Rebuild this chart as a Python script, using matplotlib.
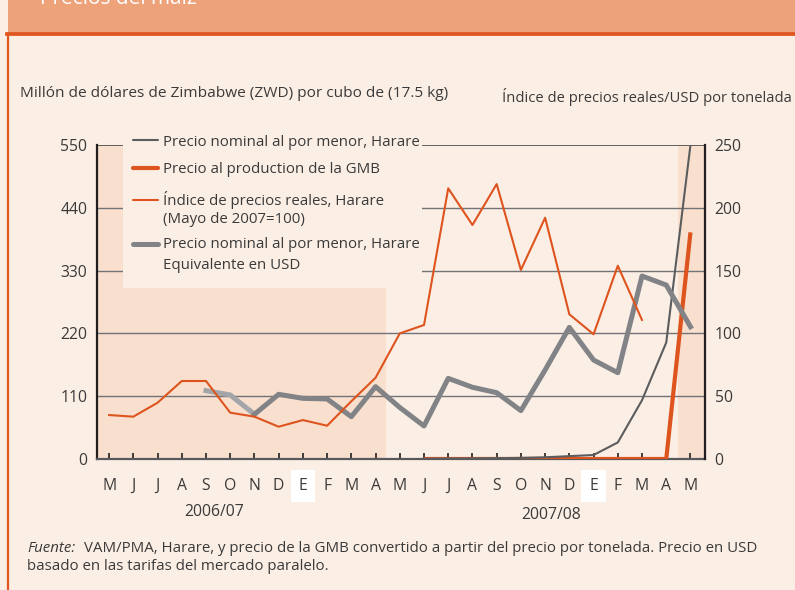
import numpy as np
import matplotlib
matplotlib.use("Agg")
import matplotlib.pyplot as plt
from matplotlib.patches import Rectangle
from matplotlib.lines import Line2D

nan = np.nan
months = ['M', 'J', 'J', 'A', 'S', 'O', 'N', 'D', 'E', 'F', 'M', 'A',
          'M', 'J', 'J', 'A', 'S', 'O', 'N', 'D', 'E', 'F', 'M', 'A', 'M']
years = ['2006/07', '2007/08']

# Left axis (ZWD millions per bucket)
nominal_zwd = [nan] * 13 + [0.5, 0.8, 1, 1.5, 2, 3, 5, 7, 29, 103, 204, 550]
gmb_price = [nan] * 13 + [0] * 11 + [397]
# Right axis
real_index = [35.0, 33.7, 44.8, 62.1, 62.1, 36.9, 33.7, 25.7, 31.0, 26.5, 46.0,
              64.7, 100.0, 106.7, 215.5, 186.3, 218.9, 150.5, 192.1, 115.2,
              99.3, 153.9, 110.7, nan, nan]
nominal_usd = [nan] * 4 + [54.4, 51.0, 35.6, 51.5, 48.3, 47.8, 33.7, 57.6, 41.0,
                           26.3, 64.2, 57.1, 52.8, 38.5, 70.9, 104.8, 78.8, 68.7,
                           145.7, 138.5, 105.3]

labels = ['Precio nominal al por menor, Harare',
          'Precio al production de la GMB',
          'Índice de precios reales, Harare\n(Mayo de 2007=100)',
          'Precio nominal al por menor, Harare\nEquivalente en USD']

BG = '#FBEEE5'
SHADE = '#F9DFCE'
HEADER = '#EDA27A'
ORANGE = '#DE541E'
DGRAY = '#5B5C5E'
MGRAY = '#818386'
LGRAY = '#A3A5A8'
TXT = '#3A3A3A'
FONT = 'Open Sans'
FS = 10.8
FST = 11.3

plt.rcParams['font.family'] = [FONT, 'DejaVu Sans']

W, H = 795, 590
fig = plt.figure(figsize=(W / 100, H / 100), dpi=100, facecolor=BG)


def fx(x):
    return x / W


def fy(y):
    return 1 - y / H


# header band and border
fig.patches.append(Rectangle((fx(8), fy(33)), 1, 33 / H, transform=fig.transFigure,
                             facecolor=HEADER, edgecolor='none', zorder=0))
fig.add_artist(Line2D([fx(7), 1], [fy(34), fy(34)], color='#E0561F', lw=2.7))
fig.add_artist(Line2D([fx(8), fx(8)], [fy(34), 0], color='#E0561F', lw=1.6))
fig.text(fx(40), fy(4), 'Precios del maíz', color='white', fontsize=15,
         va='baseline', ha='left')

ax = fig.add_axes([fx(97), fy(459), (705 - 97) / W, (459 - 145) / H])
ax.set_facecolor('none')
x = np.arange(len(months))
ax.set_xlim(-0.5, 24.6)
ax.set_ylim(0, 550)
ax.set_yticks(np.arange(0, 551, 110))

# shading
ax.axvspan(-0.5, 11.45, color=SHADE, zorder=0.5, lw=0)
ax.axvspan(23.5, 24.6, color=SHADE, zorder=0.5, lw=0)
for v in [110, 220, 330, 440]:
    ax.axhline(v, color='#727376', lw=1.0, zorder=1.5)
ax.axhline(550, color='#3a3a3a', lw=1.1, zorder=1.5)
# legend box
ax.add_patch(Rectangle(((123 - 97) / 608, (459 - 288) / 314), (422 - 123) / 608, 0.5,
                       transform=ax.transAxes, facecolor=BG, edgecolor='none',
                       zorder=1.8, clip_on=False))

ax2 = ax.twinx()
ax2.set_ylim(0, 250)
ax2.set_yticks(np.arange(0, 251, 50))
ax2.set_xlim(-0.5, 24.6)

ax.plot(x, gmb_price, color=ORANGE, lw=3.0, zorder=3, solid_capstyle='butt')
ax.plot(x, nominal_zwd, color=DGRAY, lw=1.5, zorder=4)
usd = np.array(nominal_usd, dtype=float)
light = np.full_like(usd, nan)
light[4:7] = usd[4:7]
dark = usd.copy()
dark[:6] = nan
ax2.plot(x, light, color=LGRAY, lw=3.6, zorder=3)
ax2.plot(x, dark, color=MGRAY, lw=3.6, zorder=3)
ax2.plot(x, real_index, color=ORANGE, lw=1.5, zorder=4)

for a in (ax, ax2):
    for s in a.spines.values():
        s.set_visible(False)
ax.spines['left'].set_visible(True)
ax.spines['left'].set_color('#231F20')
ax.spines['left'].set_linewidth(1.6)
ax.spines['bottom'].set_visible(True)
ax.spines['bottom'].set_color('#58595B')
ax.spines['bottom'].set_linewidth(1.6)
ax2.spines['right'].set_visible(True)
ax2.spines['right'].set_color('#231F20')
ax2.spines['right'].set_linewidth(1.6)

ax.set_xticks(x)
ax.set_xticklabels(months)
ax.tick_params(axis='x', direction='in', length=4, width=1.2, color='#231F20',
               pad=13.5, labelsize=FST, labelcolor=TXT)
ax.tick_params(axis='y', length=0, pad=7, labelsize=FST, labelcolor=TXT)
ax2.tick_params(axis='y', length=0, pad=7, labelsize=FST, labelcolor=TXT)
ax2.tick_params(axis='x', length=0, labelbottom=False)
for i, lab in enumerate(ax.get_xticklabels()):
    if months[i] == 'E':
        lab.set_bbox(dict(facecolor='white', edgecolor='none', pad=5.8))

# year labels
fig.text(fx(214), fy(512), years[0], ha='center', va='center', fontsize=FST, color=TXT)
fig.text(fx(551), fy(515), years[1], ha='center', va='center', fontsize=FST, color=TXT)

# axis titles
fig.text(fx(20), fy(94), 'Millón de dólares de Zimbabwe (ZWD) por cubo de (17.5 kg)',
         ha='left', va='center', fontsize=11.1, color=TXT)
fig.text(fx(502), fy(97), 'Índice de precios reales/USD por tonelada',
         ha='left', va='center', fontsize=10.6, color=TXT)

# manual legend
leg_specs = [(DGRAY, 1.5, 140), (ORANGE, 3.0, 168), (ORANGE, 1.5, 200), (MGRAY, 3.6, 244)]
text_rows = [[142.7], [169.3], [200, 219.5], [245, 265.5]]
for (c, lw, yy), lab, rows in zip(leg_specs, labels, text_rows):
    fig.add_artist(Line2D([fx(133), fx(158)], [fy(yy), fy(yy)], color=c, lw=lw,
                          solid_capstyle='round'))
    for line, ty in zip(lab.split('\n'), rows):
        fig.text(fx(163), fy(ty), line, ha='left', va='center', fontsize=FS, color=TXT)

# footnote
fig.text(fx(27), fy(548), 'Fuente:', ha='left', va='center', fontsize=FS,
         color=TXT, style='italic')
fig.text(fx(84), fy(548),
         'VAM/PMA, Harare, y precio de la GMB convertido a partir del precio por tonelada. Precio en USD',
         ha='left', va='center', fontsize=FS, color=TXT)
fig.text(fx(27), fy(567), 'basado en las tarifas del mercado paralelo.',
         ha='left', va='center', fontsize=FS, color=TXT)

fig.savefig('out.png', dpi=100, facecolor=BG)
